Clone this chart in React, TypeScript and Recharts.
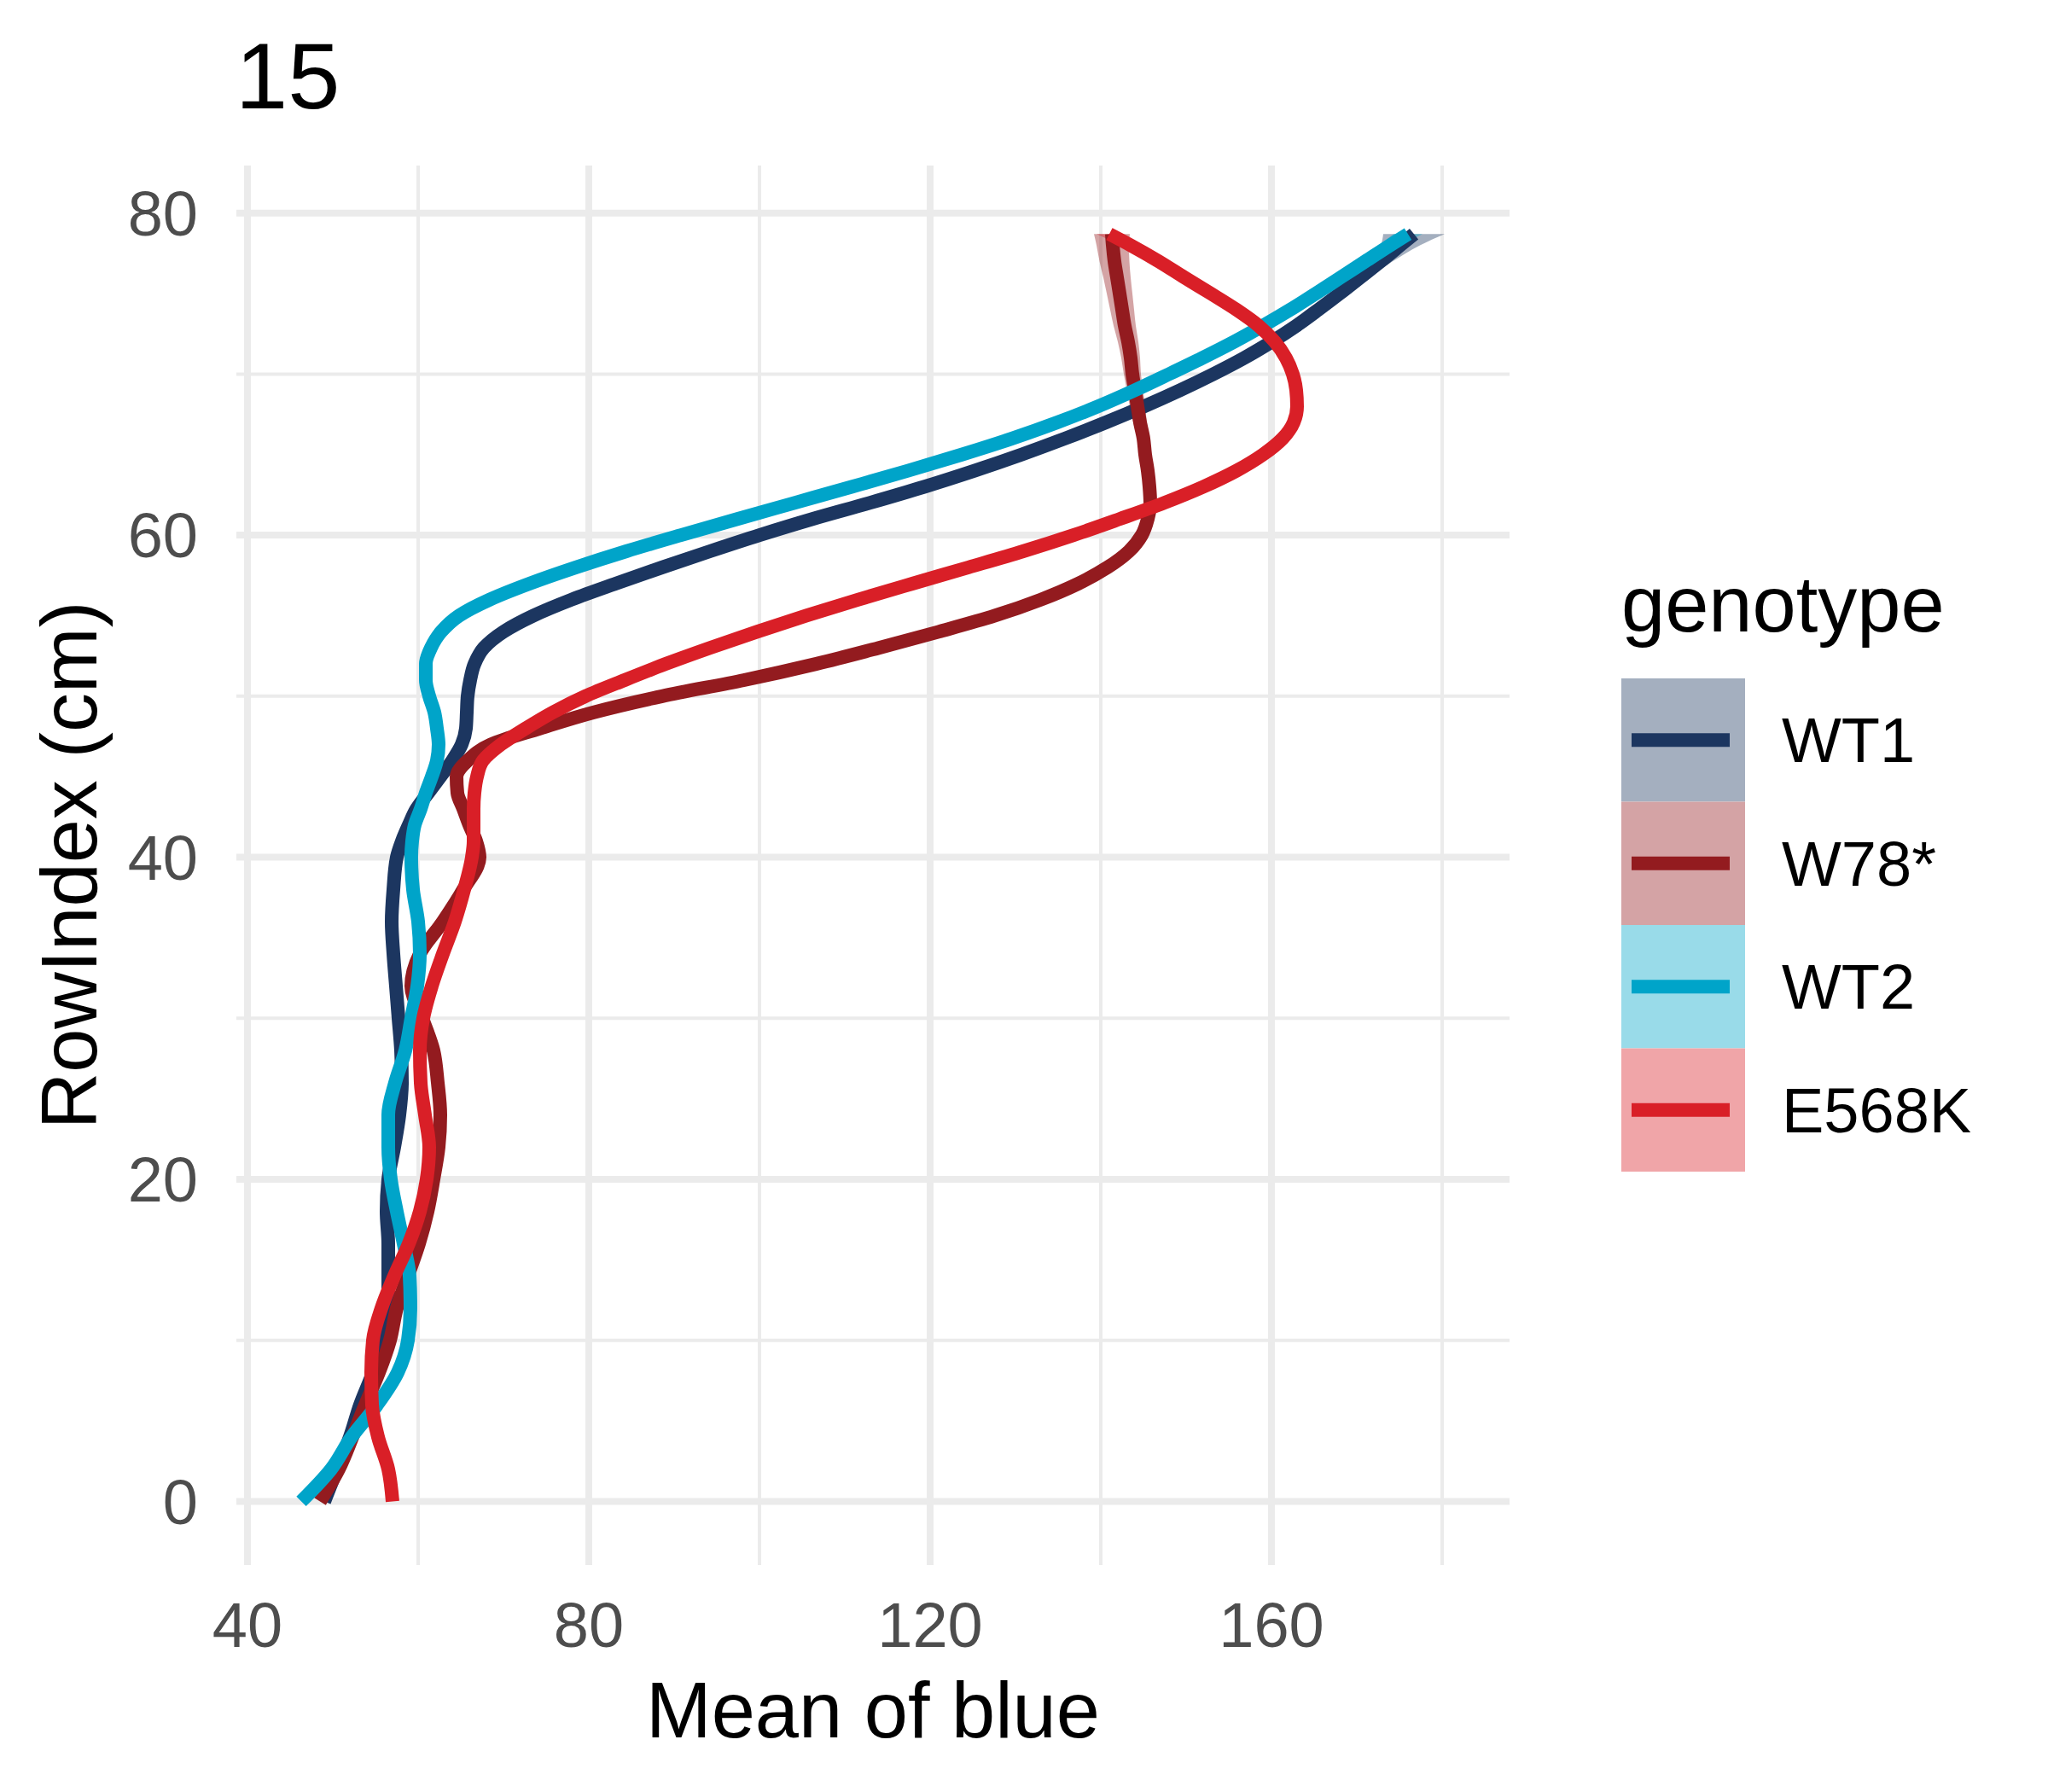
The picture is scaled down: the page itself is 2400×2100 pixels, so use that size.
import { ComposedChart, Line, Area, XAxis, YAxis, CartesianGrid, Label } from "recharts"

const rowIndex = [
  0, 2, 4, 6, 8, 10, 12, 14, 16, 18, 20, 22, 24, 26, 28, 30, 32, 34, 36, 38, 40,
  41, 42, 43, 44, 45, 46, 47, 48, 49, 50, 51, 52, 53, 54, 55, 56, 57, 58, 59, 60,
  61, 62, 63, 64, 65, 66, 67, 68, 69, 70, 71, 72, 73, 74, 75, 76, 77, 78, 78.7,
]

const wt1 = [
  49.0, 50.5, 52.0, 53.2, 54.7, 55.9, 56.5, 56.5, 56.5, 56.3, 56.5, 57.2, 57.8, 58.1, 58.0, 57.7, 57.4, 57.1, 56.9, 57.1, 57.5,
  58.1, 58.9, 59.8, 61.2, 62.6, 64.0, 65.1, 65.6, 65.7, 65.8, 66.1, 66.6, 67.7, 70.0, 73.5, 78.0, 83.2, 88.6, 94.2, 100.0,
  106.2, 112.9, 119.3, 125.2, 130.7, 135.8, 140.6, 145.1, 149.3, 153.2, 156.8, 160.0, 162.9, 165.5, 168.0, 170.4, 172.8, 175.1, 176.7,
]

const w78 = [
  48.5, 50.7, 52.3, 53.8, 55.4, 56.7, 57.5, 58.8, 60.1, 61.1, 61.8, 62.4, 62.6, 62.3, 61.8, 60.5, 59.2, 60.2, 62.9, 65.3, 67.2,
  66.8, 66.0, 65.3, 64.6, 64.5, 65.8, 68.5, 74.3, 80.6, 88.6, 98.2, 106.6, 114.0, 121.0, 127.6, 133.0, 137.4, 140.8, 143.3, 144.8,
  145.5, 145.8, 145.7, 145.5, 145.2, 145.0, 144.6, 144.3, 144.0, 143.7, 143.5, 143.2, 142.8, 142.5, 142.2, 141.9, 141.6, 141.4, 141.3,
]

const wt2 = [
  46.3, 49.8, 52.2, 55.2, 57.6, 58.8, 59.1, 59.0, 58.3, 57.5, 56.8, 56.5, 56.5, 57.3, 58.5, 59.2, 59.9, 60.2, 60.0, 59.4, 59.2,
  59.3, 59.6, 60.3, 60.9, 61.6, 62.2, 62.4, 62.2, 61.9, 61.3, 60.9, 60.9, 61.5, 62.7, 64.8, 68.4, 73.1, 78.5, 84.4, 90.8,
  97.4, 104.1, 110.8, 117.4, 123.7, 129.6, 134.9, 139.7, 144.0, 148.0, 151.9, 155.6, 159.0, 162.2, 165.2, 168.1, 171.0, 173.9, 176.0,
]

const e568k = [
  57.0, 56.5, 55.3, 54.6, 54.5, 54.7, 55.7, 57.2, 58.9, 60.2, 61.0, 61.3, 60.8, 60.3, 60.2, 60.6, 61.6, 62.9, 64.3, 65.4, 66.3,
  66.5, 66.5, 66.5, 66.6, 66.9, 67.6, 69.7, 72.6, 75.8, 79.6, 84.2, 89.0, 94.2, 99.7, 105.5, 111.6, 118.0, 124.5, 130.9, 136.8,
  142.2, 147.4, 152.0, 155.9, 159.0, 161.3, 162.6, 163.0, 162.9, 162.5, 161.7, 160.4, 158.5, 155.9, 152.9, 149.8, 146.8, 143.5, 141.0,
]

// confidence band half-widths, only visible near the top of the rows
const bandRowIndex = [66, 67, 68, 69, 70, 71, 72, 73, 74, 75, 76, 77, 78, 78.7]
const wt1Band = [0.5, 0.5, 0.5, 0.5, 0.5, 0.5, 0.5, 0.6, 0.7, 0.8, 1.0, 1.4, 2.3, 3.6]
const w78Band = [0.7, 0.8, 0.9, 0.95, 1.0, 1.1, 1.2, 1.3, 1.4, 1.5, 1.6, 1.75, 1.9, 2.1]
const wt2Band = [0.5, 0.5, 0.5, 0.5, 0.5, 0.5, 0.5, 0.5, 0.6, 0.7, 0.8, 1.0, 1.3, 1.7]
const e568kBand = [0.6, 0.6, 0.6, 0.6, 0.6, 0.6, 0.6, 0.7, 0.7, 0.8, 0.9, 1.0, 1.2, 1.5]

const xTicks = [40, 80, 120, 160]
const xMinor = [60, 100, 140, 180]
const yTicks = [0, 20, 40, 60, 80]
const yMinor = [10, 30, 50, 70]

const series = [
  { key: "wt1", name: "WT1", values: wt1, band: wt1Band, color: "#1c3660", fill: "#a4afbf" },
  { key: "w78", name: "W78*", values: w78, band: w78Band, color: "#931b1f", fill: "#d4a3a5" },
  { key: "wt2", name: "WT2", values: wt2, band: wt2Band, color: "#00a4c9", fill: "#99dbe9" },
  { key: "e568k", name: "E568K", values: e568k, band: e568kBand, color: "#d91f27", fill: "#f0a5a8" },
]

const rows = rowIndex.map((y, i) => {
  const row: Record<string, number | number[]> = { y }
  const j = bandRowIndex.indexOf(y)
  series.forEach((s) => {
    row[s.key] = s.values[i]
    if (j >= 0) row[s.key + "Band"] = [s.values[i] - s.band[j], s.values[i] + s.band[j]]
  })
  return row
})

const font = "'Liberation Sans', Arial, sans-serif"

const YTitle = (props: any) => {
  const vb = props.viewBox ?? { x: 0, y: 194, width: 277, height: 1640 }
  const cx = vb.x + 113
  const cy = vb.y + vb.height / 2
  return (
    <text x={cx} y={cy} transform={`rotate(-90 ${cx} ${cy})`} textAnchor="middle" fontSize={92} fontFamily={font} fill="#000">
      RowIndex (cm)
    </text>
  )
}

const App = () => {
  return (
    <div style={{ position: "absolute", left: 0, top: 0, width: 2400, height: 2100, background: "#fff" }}>
      <ComposedChart
        width={2400}
        height={2100}
        data={rows}
        layout="vertical"
        margin={{ top: 194, right: 631, bottom: 0, left: 0 }}
      >
        <CartesianGrid stroke="#ebebeb" strokeWidth={4} horizontalValues={yMinor} verticalValues={xMinor} />
        <CartesianGrid stroke="#ebebeb" strokeWidth={8} horizontalValues={yTicks} verticalValues={xTicks} />
        <XAxis
          type="number"
          domain={[38.7, 187.9]}
          ticks={xTicks}
          allowDataOverflow
          axisLine={false}
          tickLine={false}
          tickSize={0}
          tickMargin={43}
          height={266}
          tick={{ fill: "#4d4d4d", fontSize: 74, fontFamily: font }}
          label={{ value: "Mean of blue", position: "insideBottom", offset: 64, fill: "#000", fontSize: 92, fontFamily: font }}
        />
        <YAxis
          type="number"
          dataKey="y"
          domain={[-3.95, 82.95]}
          ticks={yTicks}
          reversed
          allowDataOverflow
          axisLine={false}
          tickLine={false}
          tickSize={0}
          tickMargin={45}
          width={277}
          tick={{ fill: "#4d4d4d", fontSize: 74, fontFamily: font }}
        >
          <Label content={YTitle} />
        </YAxis>
        {series.map((s) => (
          <Area
            key={s.key + "Band"}
            dataKey={s.key + "Band"}
            type="monotone"
            stroke="none"
            fill={s.color}
            fillOpacity={0.4}
            isAnimationActive={false}
          />
        ))}
        {series.map((s) => (
          <Line
            key={s.key}
            dataKey={s.key}
            name={s.name}
            type="monotone"
            stroke={s.color}
            strokeWidth={16}
            dot={false}
            activeDot={false}
            isAnimationActive={false}
          />
        ))}
      </ComposedChart>
      <svg width={2400} height={2100} style={{ position: "absolute", left: 0, top: 0, pointerEvents: "none" }}>
        <text x={276} y={127} fontSize={110} fontFamily={font} fill="#000">
          15
        </text>
        <text x={1900} y={740} fontSize={92} fontFamily={font} fill="#000">
          genotype
        </text>
        {series.map((s, i) => {
          const top = 795 + i * 144.5
          const mid = top + 72.25
          return (
            <g key={s.key}>
              <rect x={1900} y={top} width={145} height={144.5} fill={s.fill} />
              <line x1={1912} x2={2027} y1={mid} y2={mid} stroke={s.color} strokeWidth={16} />
              <text x={2088} y={mid + 26} fontSize={74} fontFamily={font} fill="#000">
                {s.name}
              </text>
            </g>
          )
        })}
      </svg>
    </div>
  )
}

export default App
